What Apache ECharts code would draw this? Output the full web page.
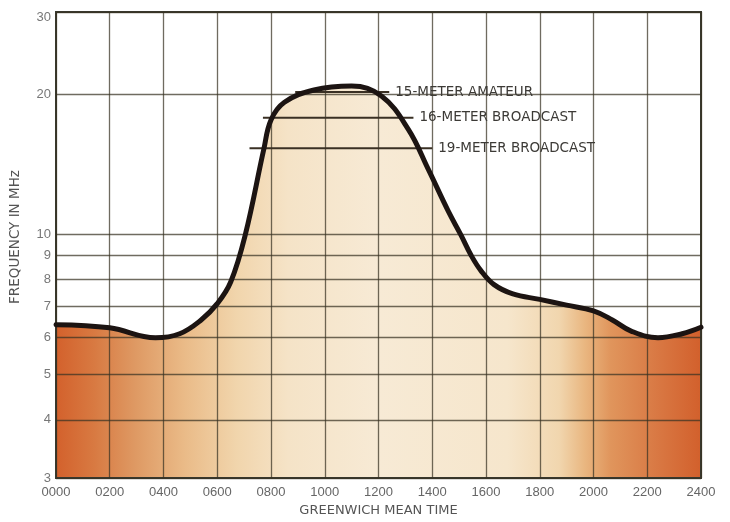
<!DOCTYPE html>
<html>
<head>
<meta charset="utf-8">
<script src="https://cdn.jsdelivr.net/npm/echarts@6/dist/echarts.min.js"></script>
<style>html,body{margin:0;padding:0;background:#fff}#c{width:730px;height:522px}</style>
</head>
<body>
<div id="c"></div>
<script>
// Greenwich mean time (hours x100) and maximum usable frequency (MHz)
const gmt  = [0, 200, 370, 460, 540, 600, 650, 704, 774, 800, 850, 960, 1100, 1211, 1311, 1385, 1460, 1507, 1544, 1581, 1630, 1700, 1800, 1900, 2000, 2070, 2140, 2240, 2330, 2400];
const freq = [6.4, 6.3, 6.0, 6.12, 6.55, 7.1, 7.9, 9.96, 15.3, 17.6, 19.2, 20.4, 20.8, 19.8, 16.8, 13.8, 11.2, 9.96, 9.03, 8.36, 7.8, 7.45, 7.25, 7.05, 6.85, 6.55, 6.2, 6.0, 6.12, 6.32];

// Broadcast / amateur bands
const bandNames = ['15-METER AMATEUR', '16-METER BROADCAST', '19-METER BROADCAST'];
const bandFreq  = [20.2, 17.8, 15.3];
const bandStart = [890, 770, 720];
const bandEnd   = [1240, 1330, 1400];

// Tick labels
const yTicks = [3, 4, 5, 6, 7, 8, 9, 10, 20, 30];
const xTickStep = 200;

const L = Math.log10;
const gridColor = 'rgba(55,50,35,0.72)';

const chart = echarts.init(document.getElementById('c'), null, {renderer: 'canvas'});

const curve = gmt.map((t, i) => [t, L(freq[i])]);
const series = [
  {
    type: 'line', z: 1, smooth: 0.4, symbol: 'none',
    data: curve,
    lineStyle: {width: 0},
    areaStyle: {
      opacity: 1,
      color: new echarts.graphic.LinearGradient(0, 0, 1, 0, [
        {offset: 0, color: '#d3612c'},
        {offset: 0.06, color: '#d87a42'},
        {offset: 0.12, color: '#de9862'},
        {offset: 0.2, color: '#eabb88'},
        {offset: 0.28, color: '#f1d5ac'},
        {offset: 0.36, color: '#f5e3c7'},
        {offset: 0.5, color: '#f7ead5'},
        {offset: 0.7, color: '#f6e6cc'},
        {offset: 0.78, color: '#f1d6ae'},
        {offset: 0.82, color: '#e9b680'},
        {offset: 0.86, color: '#e0955c'},
        {offset: 0.93, color: '#d97944'},
        {offset: 1, color: '#d2602c'}
      ])
    },
    silent: true
  },
  {
    type: 'line', z: 5, smooth: 0.4, symbol: 'none',
    data: curve,
    lineStyle: {width: 5, color: '#1c1412', cap: 'round', join: 'round'},
    silent: true
  }
];
bandNames.forEach((n, i) => {
  series.push({
    type: 'line', z: 4, symbol: 'none', name: n,
    data: [[bandStart[i], L(bandFreq[i])], [bandEnd[i], L(bandFreq[i])]],
    lineStyle: {width: 2, color: '#3a3024'},
    endLabel: {
      show: true, formatter: n, distance: 6,
      color: '#3c3a36', fontSize: 13.5, fontFamily: 'DejaVu Sans'
    },
    silent: true
  });
});

chart.setOption({
  animation: false,
  backgroundColor: '#ffffff',
  grid: {left: 53, right: 29, top: 12, bottom: 40, show: true, borderColor: '#3a3a30', borderWidth: 2, backgroundColor: 'transparent', z: 3},
  xAxis: {
    type: 'value', min: 0, max: 2400, interval: xTickStep, z: 3,
    name: 'GREENWICH MEAN TIME', nameLocation: 'middle', nameGap: 26,
    nameTextStyle: {color: '#555', fontSize: 13, fontFamily: 'DejaVu Sans'},
    axisLine: {show: false}, axisTick: {show: false},
    axisLabel: {color: '#666', fontSize: 13, fontFamily: 'Liberation Sans Narrow, Liberation Sans', margin: 8,
      formatter: v => String(v).padStart(4, '0')},
    splitLine: {show: true, lineStyle: {color: gridColor, width: 1.3}}
  },
  yAxis: {
    type: 'value', min: L(3), max: L(30), z: 3,
    name: 'FREQUENCY IN MHz', nameLocation: 'middle', nameGap: 34,
    nameTextStyle: {color: '#555', fontSize: 13.5, fontFamily: 'DejaVu Sans', padding: [0, 0, 0, 16]},
    axisLine: {show: false},
    axisTick: {show: false, customValues: yTicks.map(L)},
    axisLabel: {customValues: yTicks.map(L), color: '#777', fontSize: 13, fontFamily: 'Liberation Sans', margin: 5,
      formatter: v => {
        const n = Math.round(Math.pow(10, v));
        return n === 30 ? '{top|' + n + '}' : String(n);
      },
      rich: {top: {color: '#777', fontSize: 13, fontFamily: 'Liberation Sans', padding: [10, 0, 0, 0]}}},
    splitLine: {show: true, lineStyle: {color: gridColor, width: 1.3}}
  },
  series: series
});
</script>
</body>
</html>
